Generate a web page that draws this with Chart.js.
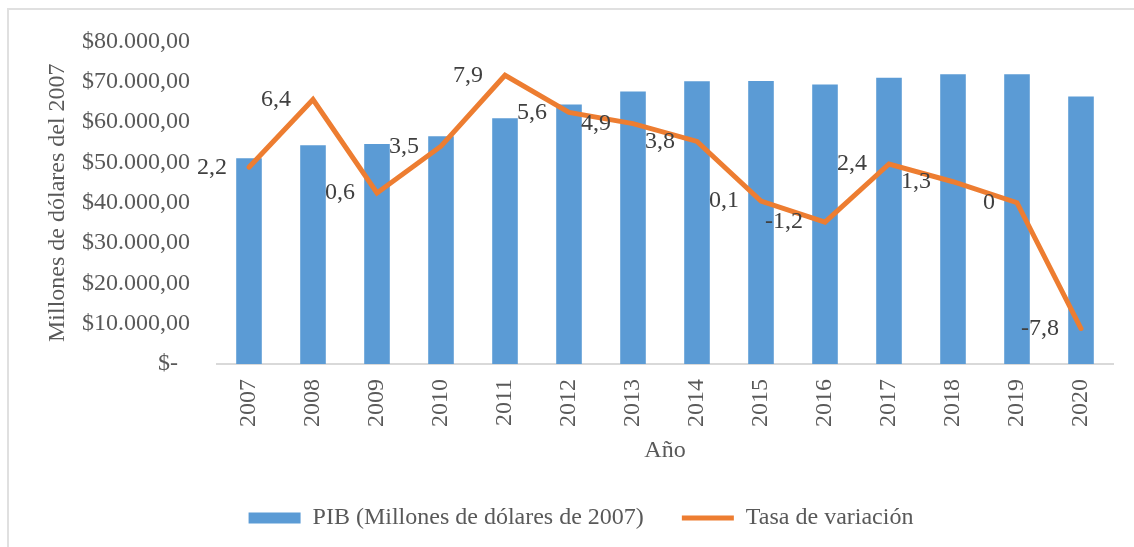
<!DOCTYPE html>
<html>
<head>
<meta charset="utf-8">
<script src="https://cdn.jsdelivr.net/npm/chart.js@4.4.1/dist/chart.umd.min.js"></script>
<style>
  html, body { margin: 0; padding: 0; background: #fff; overflow: hidden; }
  #marco { position: absolute; left: 7px; top: 8px; width: 1200px; height: 600px; border: 2px solid #e0e0e0; }
  canvas { position: absolute; left: 0; top: 0; }
</style>
</head>
<body>
<div id="marco"></div>
<canvas id="grafico" width="1134" height="547"></canvas>
<script>
const anios = ['2007', '2008', '2009', '2010', '2011', '2012', '2013', '2014', '2015', '2016', '2017', '2018', '2019', '2020'];
const pib = [51007, 54250, 54557, 56481, 60925, 64362, 67546, 70105, 70175, 69314, 70956, 71871, 71879, 66308];
const tasa = [2.2, 6.4, 0.6, 3.5, 7.9, 5.6, 4.9, 3.8, 0.1, -1.2, 2.4, 1.3, 0, -7.8];
const etiquetasY = ['$-\u00a0\u00a0', '$10.000,00', '$20.000,00', '$30.000,00', '$40.000,00',
                    '$50.000,00', '$60.000,00', '$70.000,00', '$80.000,00'];

const fuente = '"Liberation Serif", "Times New Roman", serif';
Chart.defaults.font.family = fuente;
Chart.defaults.font.size = 24;
Chart.defaults.color = '#595959';

// etiquetas de la tasa, a la izquierda de cada punto
const etiquetasTasa = {
  id: 'etiquetasTasa',
  afterDatasetsDraw(chart) {
    const ctx = chart.ctx;
    const meta = chart.getDatasetMeta(1);
    ctx.save();
    ctx.font = '24px ' + fuente;
    ctx.fillStyle = '#404040';
    ctx.textAlign = 'right';
    ctx.textBaseline = 'middle';
    meta.data.forEach(function (pt, i) {
      ctx.fillText(String(tasa[i]).replace('.', ','), pt.x - 22, pt.y);
    });
    ctx.restore();
  }
};

const ctx = document.getElementById('grafico');
new Chart(ctx, {
  type: 'bar',
  data: {
    labels: anios,
    datasets: [{
      label: 'PIB (Millones de dólares de 2007)',
      data: pib,
      backgroundColor: '#5B9BD5',
      borderWidth: 0,
      barPercentage: 0.8,
      categoryPercentage: 0.5,
      pointStyle: 'rect',
      yAxisID: 'y',
      order: 1
    }, {
      type: 'line',
      label: 'Tasa de variación',
      data: tasa,
      borderColor: '#ED7D31',
      backgroundColor: '#ED7D31',
      borderWidth: 5,
      borderCapStyle: 'round',
      tension: 0,
      pointRadius: 0,
      pointHoverRadius: 0,
      pointStyle: 'line',
      yAxisID: 'y2',
      order: 0
    }]
  },
  options: {
    responsive: false,
    animation: false,
    layout: { padding: { left: 49, right: 21, top: 38, bottom: 7 } },
    plugins: {
      tooltip: { enabled: false },
      legend: {
        position: 'bottom',
        labels: {
          usePointStyle: true,
          pointStyleWidth: 52,
          boxHeight: 11,
          padding: 38,
          color: '#595959',
          sort: function (a, b) { return a.datasetIndex - b.datasetIndex; }
        }
      }
    },
    scales: {
      x: {
        grid: { display: false, drawTicks: false },
        border: { display: true, color: '#d9d9d9', width: 2 },
        ticks: { minRotation: 90, maxRotation: 90, autoSkip: false, padding: 15, color: '#595959' },
        title: { display: true, text: 'Año', color: '#595959', padding: { top: 0, bottom: 3 } },
        afterFit: function (scale) { scale.height = 104; }
      },
      y: {
        min: 0,
        max: 80000,
        grid: { display: false, drawTicks: false },
        border: { display: false },
        ticks: {
          stepSize: 10000,
          padding: 27,
          color: '#595959',
          callback: function (value) { return etiquetasY[Math.round(value / 10000)]; }
        },
        title: { display: true, text: 'Millones de dólares del 2007', color: '#595959', padding: { top: -6, bottom: 0 } },
        afterFit: function (scale) { scale.width = 168; }
      },
      y2: {
        position: 'right',
        display: false,
        min: -10,
        max: 10
      }
    }
  },
  plugins: [etiquetasTasa]
});
</script>
</body>
</html>
